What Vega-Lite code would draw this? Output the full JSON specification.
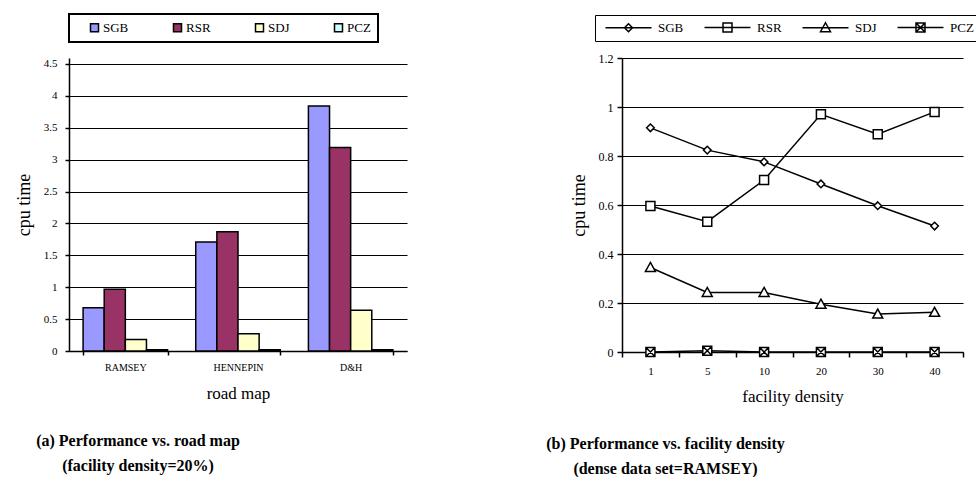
{
  "$schema": "https://vega.github.io/schema/vega-lite/v6.json",
  "background": "white",
  "padding": {"left": 15, "top": 13, "right": 0, "bottom": 0},
  "spacing": 139,
  "resolve": {"scale": {"fill": "independent", "shape": "independent"}, "legend": {"fill": "independent", "shape": "independent"}},
  "config": {
    "font": "Liberation Serif",
    "view": {"stroke": null},
    "axis": {
      "labelFont": "Liberation Serif",
      "titleFont": "Liberation Serif",
      "labelColor": "black",
      "titleColor": "black",
      "domainColor": "black",
      "tickColor": "black",
      "gridColor": "black",
      "gridOpacity": 1,
      "titleFontWeight": "normal",
      "domainWidth": 1.5,
      "tickWidth": 1.5
    },
    "legend": {"labelFont": "Liberation Serif", "labelColor": "black"},
    "title": {"font": "Liberation Serif", "color": "black"}
  },
  "datasets": {
    "bars": [
      {"map": "RAMSEY", "method": "SGB", "cpu": 0.68},
      {"map": "RAMSEY", "method": "RSR", "cpu": 0.97},
      {"map": "RAMSEY", "method": "SDJ", "cpu": 0.18},
      {"map": "RAMSEY", "method": "PCZ", "cpu": 0.02},
      {"map": "HENNEPIN", "method": "SGB", "cpu": 1.71},
      {"map": "HENNEPIN", "method": "RSR", "cpu": 1.87},
      {"map": "HENNEPIN", "method": "SDJ", "cpu": 0.27},
      {"map": "HENNEPIN", "method": "PCZ", "cpu": 0.02},
      {"map": "D&H", "method": "SGB", "cpu": 3.84},
      {"map": "D&H", "method": "RSR", "cpu": 3.19},
      {"map": "D&H", "method": "SDJ", "cpu": 0.64},
      {"map": "D&H", "method": "PCZ", "cpu": 0.02}
    ],
    "lines": [
      {"density": 1, "method": "SGB", "cpu": 0.915},
      {"density": 5, "method": "SGB", "cpu": 0.824},
      {"density": 10, "method": "SGB", "cpu": 0.776},
      {"density": 20, "method": "SGB", "cpu": 0.686},
      {"density": 30, "method": "SGB", "cpu": 0.597},
      {"density": 40, "method": "SGB", "cpu": 0.514},
      {"density": 1, "method": "RSR", "cpu": 0.596},
      {"density": 5, "method": "RSR", "cpu": 0.532},
      {"density": 10, "method": "RSR", "cpu": 0.702},
      {"density": 20, "method": "RSR", "cpu": 0.97},
      {"density": 30, "method": "RSR", "cpu": 0.889},
      {"density": 40, "method": "RSR", "cpu": 0.98},
      {"density": 1, "method": "SDJ", "cpu": 0.345},
      {"density": 5, "method": "SDJ", "cpu": 0.243},
      {"density": 10, "method": "SDJ", "cpu": 0.243},
      {"density": 20, "method": "SDJ", "cpu": 0.195},
      {"density": 30, "method": "SDJ", "cpu": 0.155},
      {"density": 40, "method": "SDJ", "cpu": 0.162},
      {"density": 1, "method": "PCZ", "cpu": 0},
      {"density": 5, "method": "PCZ", "cpu": 0.005},
      {"density": 10, "method": "PCZ", "cpu": 0},
      {"density": 20, "method": "PCZ", "cpu": 0},
      {"density": 30, "method": "PCZ", "cpu": 0},
      {"density": 40, "method": "PCZ", "cpu": 0}
    ]
  },
  "hconcat": [
    {
      "width": 338,
      "height": 293,
      "data": {"name": "bars"},
      "title": {
        "text": ["(a) Performance vs. road map", "(facility density=20%)"],
        "orient": "bottom",
        "anchor": "middle",
        "dx": -100,
        "offset": 32,
        "fontSize": 16,
        "fontWeight": "bold",
        "lineHeight": 25
      },
      "mark": {"type": "bar", "stroke": "black", "strokeWidth": 1.5},
      "encoding": {
        "x": {
          "field": "map",
          "type": "nominal",
          "sort": ["RAMSEY", "HENNEPIN", "D&H"],
          "scale": {"paddingInner": 0.25, "paddingOuter": 0.125},
          "axis": {
            "title": "road map",
            "labelAngle": 0,
            "labelFontSize": 10,
            "titleFontSize": 17,
            "tickBand": "extent",
            "tickSize": 4,
            "labelPadding": 7,
            "titlePadding": 13
          }
        },
        "xOffset": {
          "field": "method",
          "type": "nominal",
          "sort": ["SGB", "RSR", "SDJ", "PCZ"],
          "scale": {"paddingInner": 0, "paddingOuter": 0}
        },
        "y": {
          "field": "cpu",
          "type": "quantitative",
          "scale": {"domain": [0, 4.594], "nice": false},
          "axis": {
            "title": "cpu time",
            "values": [0, 0.5, 1, 1.5, 2, 2.5, 3, 3.5, 4, 4.5],
            "format": "~g",
            "grid": true,
            "labelFontSize": 11,
            "titleFontSize": 18,
            "tickSize": 4,
            "labelPadding": 8,
            "titlePadding": 10
          }
        },
        "fill": {
          "field": "method",
          "type": "nominal",
          "sort": ["SGB", "RSR", "SDJ", "PCZ"],
          "scale": {
            "domain": ["SGB", "RSR", "SDJ", "PCZ"],
            "range": ["#9999FF", "#993366", "#FFFFCC", "#CCFFFF"]
          },
          "legend": {
            "title": null,
            "orient": "none",
            "legendX": 0,
            "legendY": -44,
            "direction": "horizontal",
            "columns": 4,
            "padding": 7,
            "strokeColor": "black",
            "symbolType": "square",
            "symbolSize": 64,
            "symbolStrokeColor": "black",
            "symbolStrokeWidth": 1.5,
            "symbolOffset": 12,
            "labelFontSize": 13,
            "labelOffset": 2,
            "columnPadding": 30,
            "encode": {
              "legend": {"update": {"strokeWidth": {"value": 2}}},
              "symbols": {"update": {"stroke": {"value": "black"}, "strokeWidth": {"value": 1.5}, "opacity": {"value": 1}}}
            }
          }
        }
      }
    },
    {
      "width": 341,
      "height": 294,
      "data": {"name": "lines"},
      "title": {
        "text": ["(b) Performance vs. facility density", "(dense data set=RAMSEY)"],
        "orient": "bottom",
        "anchor": "middle",
        "dx": -127,
        "offset": 32,
        "fontSize": 16,
        "fontWeight": "bold",
        "lineHeight": 25
      },
      "resolve": {"scale": {"shape": "independent"}, "legend": {"shape": "independent"}},
      "encoding": {
        "x": {
          "field": "density",
          "type": "ordinal",
          "bandPosition": 0.5,
          "scale": {"type": "band", "paddingInner": 0, "paddingOuter": 0},
          "axis": {
            "title": "facility density",
            "labelAngle": 0,
            "labelFontSize": 11,
            "titleFontSize": 17,
            "tickBand": "extent",
            "tickSize": 5,
            "labelPadding": 8,
            "titlePadding": 12
          }
        },
        "y": {
          "field": "cpu",
          "type": "quantitative",
          "scale": {"domain": [0, 1.2], "nice": false},
          "axis": {
            "title": "cpu time",
            "values": [0, 0.2, 0.4, 0.6, 0.8, 1, 1.2],
            "format": "~g",
            "grid": true,
            "labelFontSize": 12,
            "titleFontSize": 18,
            "tickSize": 5,
            "labelPadding": 4,
            "titlePadding": 10
          }
        }
      },
      "layer": [
        {
          "mark": {"type": "line", "color": "black", "strokeWidth": 1.5},
          "encoding": {"detail": {"field": "method", "type": "nominal"}}
        },
        {
          "mark": {"type": "point", "filled": false, "fill": "white", "fillOpacity": 1, "stroke": "black", "strokeWidth": 1.5, "opacity": 1, "size": 100},
          "encoding": {
            "shape": {
              "field": "method",
              "type": "nominal",
              "scale": {
                "domain": ["SGB", "RSR", "SDJ", "PCZ"],
                "range": [
                  "M0,-0.76L0.76,0L0,0.76L-0.76,0Z",
                  "M-0.9,-0.9H0.9V0.9H-0.9Z",
                  "M0,-1L1,0.8H-1Z",
                  "M-0.9,-0.9H0.9V0.9H-0.9ZM-0.9,-0.9L0.9,0.9M0.9,-0.9L-0.9,0.9"
                ]
              },
              "legend": null
            }
          }
        },
        {
          "mark": {"type": "point", "filled": false, "fill": "white", "stroke": "black", "strokeWidth": 1.5, "opacity": 0, "size": 100},
          "encoding": {
            "shape": {
              "field": "method",
              "type": "nominal",
              "scale": {
                "domain": ["SGB", "RSR", "SDJ", "PCZ"],
                "range": [
                  "M-4.6,0H4.6M0,-0.8L0.8,0L0,0.8L-0.8,0Z",
                  "M-4.6,0H4.6M-0.9,-0.9H0.9V0.9H-0.9Z",
                  "M-4.6,0H4.6M0,-1L1,0.8H-1Z",
                  "M-4.6,0H4.6M-0.9,-0.9H0.9V0.9H-0.9ZM-0.9,-0.9L0.9,0.9M0.9,-0.9L-0.9,0.9"
                ]
              },
              "legend": {
                "title": null,
                "orient": "none",
                "legendX": -27,
                "legendY": -43,
                "direction": "horizontal",
                "columns": 4,
                "padding": 6,
                "strokeColor": "black",
                "symbolSize": 100,
                "symbolOffset": 21,
                "labelFontSize": 13,
                "labelOffset": 23,
                "columnPadding": 16,
                "encode": {
                  "legend": {"update": {"strokeWidth": {"value": 2}}},
                  "symbols": {
                    "update": {
                      "size": {"value": 100},
                      "fill": {"value": "white"},
                      "fillOpacity": {"value": 1},
                      "stroke": {"value": "black"},
                      "strokeWidth": {"value": 1.5},
                      "opacity": {"value": 1}
                    }
                  }
                }
              }
            }
          }
        }
      ]
    }
  ]
}
